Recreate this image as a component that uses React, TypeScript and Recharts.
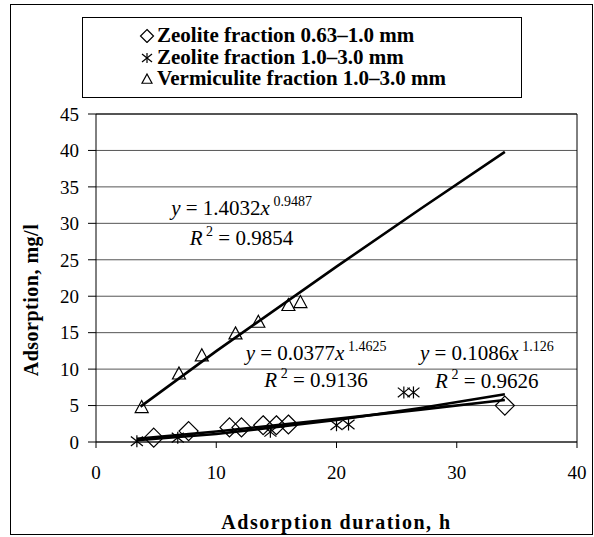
import React from 'react';
import { ScatterChart, Scatter, XAxis, YAxis, CartesianGrid, ReferenceLine, ReferenceDot } from 'recharts';

const FONT = '"Liberation Serif", "Times New Roman", serif';

const xTicks = [0, 10, 20, 30, 40];
const yTicks = [0, 5, 10, 15, 20, 25, 30, 35, 40, 45];

// measured points
const zeoliteFine = [
  { x: 4.8, y: 0.6 }, { x: 7.7, y: 1.5 }, { x: 11.1, y: 2.0 }, { x: 12.1, y: 2.0 },
  { x: 13.9, y: 2.3 }, { x: 15.0, y: 2.3 }, { x: 16.0, y: 2.4 }, { x: 34.0, y: 5.0 },
];
const zeoliteCoarse = [
  { x: 3.4, y: 0.1 }, { x: 6.8, y: 0.6 }, { x: 14.5, y: 1.4 }, { x: 20.0, y: 2.3 },
  { x: 21.0, y: 2.4 }, { x: 25.6, y: 6.8 }, { x: 26.4, y: 6.8 },
];
const vermiculite = [
  { x: 3.8, y: 4.8 }, { x: 6.9, y: 9.4 }, { x: 8.8, y: 11.9 }, { x: 11.6, y: 14.9 },
  { x: 13.5, y: 16.5 }, { x: 16.0, y: 18.8 }, { x: 17.0, y: 19.2 },
];

// trendlines
const zeoliteFineTrend = [
  { x: 3.4, y: 0.43 }, { x: 10, y: 1.45 }, { x: 20, y: 3.17 }, { x: 27, y: 4.44 }, { x: 34, y: 5.76 },
];
const zeoliteCoarseTrend = [
  { x: 3.4, y: 0.23 }, { x: 10, y: 1.09 }, { x: 20, y: 3.01 }, { x: 27, y: 4.67 }, { x: 34, y: 6.54 },
];
const vermiculiteTrend = [
  { x: 3.7, y: 4.85 }, { x: 10, y: 12.47 }, { x: 20, y: 24.06 }, { x: 27, y: 32.0 }, { x: 34, y: 39.8 },
];

const legendNames = [
  'Zeolite fraction 0.63\u20131.0 mm',
  'Zeolite fraction 1.0\u20133.0 mm',
  'Vermiculite fraction 1.0\u20133.0 mm',
];

const equations = [
  { coef: '1.4032', exp: '0.9487', r2: '0.9854', x: 12.1, y: 32.1, ry: 28.0 },
  { coef: '0.0377', exp: '1.4625', r2: '0.9136', x: 18.3, y: 12.2, ry: 8.5 },
  { coef: '0.1086', exp: '1.126', r2: '0.9626', x: 32.5, y: 12.2, ry: 8.4 },
];

const Diamond = ({ cx, cy, s = 9.5 }: any) => (
  <path d={`M${cx},${cy - s}L${cx + s},${cy}L${cx},${cy + s}L${cx - s},${cy}Z`} fill="none" stroke="#000" strokeWidth={1.2} />
);

const Star = ({ cx, cy, s = 6 }: any) => (
  <g stroke="#000" strokeWidth={1.2}>
    <line x1={cx} y1={cy - s} x2={cx} y2={cy + s} />
    <line x1={cx - s} y1={cy - s * 0.8} x2={cx + s} y2={cy + s * 0.8} />
    <line x1={cx - s} y1={cy + s * 0.8} x2={cx + s} y2={cy - s * 0.8} />
  </g>
);

const Triangle = ({ cx, cy, s = 6.5 }: any) => (
  <path d={`M${cx},${cy - s}L${cx + s},${cy + s * 0.85}L${cx - s},${cy + s * 0.85}Z`} fill="none" stroke="#000" strokeWidth={1.2} />
);

const noShape = () => <g />;

const eqLabel = (coef: string, exp: string) => (props: any) => {
  const { x, y } = props.viewBox;
  return (
    <text x={x} y={y + 7} textAnchor="middle" fontFamily={FONT} fontSize={21} fill="#000">
      <tspan fontStyle="italic">y</tspan>
      <tspan> = {coef}</tspan>
      <tspan fontStyle="italic">x</tspan>
      <tspan dy={-9} fontSize={14}> {exp}</tspan>
    </text>
  );
};

const r2Label = (r2: string) => (props: any) => {
  const { x, y } = props.viewBox;
  return (
    <text x={x} y={y + 7} textAnchor="middle" fontFamily={FONT} fontSize={21} fill="#000">
      <tspan fontStyle="italic">R</tspan>
      <tspan dy={-9} fontSize={14}> 2</tspan>
      <tspan dy={9}> = {r2}</tspan>
    </text>
  );
};

const tickStyle = { fontFamily: FONT, fontSize: 19, fill: '#000' };

export default function App() {
  const symbols = [Diamond, Star, Triangle];
  return (
    <div style={{ position: 'absolute', left: 0, top: 0, width: 594, height: 537, background: '#fff' }}>
      <ScatterChart width={594} height={537} margin={{ top: 114, right: 17, bottom: 65, left: 10 }}>
        <CartesianGrid vertical={false} stroke="#555" />
        <XAxis
          type="number"
          dataKey="x"
          domain={[0, 40]}
          ticks={xTicks}
          interval={0}
          height={30}
          tickSize={6}
          tickMargin={18}
          tick={tickStyle}
          stroke="#000"
          label={{
            content: (p: any) => (
              <text
                x={p.viewBox.x + p.viewBox.width / 2}
                y={529}
                textAnchor="middle"
                fontFamily={FONT}
                fontWeight="bold"
                fontSize={20}
                letterSpacing={1.5}
                fill="#000"
              >
                Adsorption duration, h
              </text>
            ),
          }}
        />
        <YAxis
          type="number"
          dataKey="y"
          domain={[0, 45]}
          ticks={yTicks}
          interval={0}
          width={86}
          tickSize={8}
          tickMargin={9}
          tick={tickStyle}
          stroke="#000"
          label={{
            content: () => (
              <text
                x={38}
                y={300}
                transform="rotate(-90, 38, 300)"
                textAnchor="middle"
                fontFamily={FONT}
                fontWeight="bold"
                fontSize={20}
                letterSpacing={0.5}
                fill="#000"
              >
                Adsorption, mg/l
              </text>
            ),
          }}
        />
        <ReferenceLine x={40} stroke="#000" />
        <ReferenceLine y={45} stroke="#000" />
        <Scatter data={zeoliteFine} shape={(p: any) => <Diamond cx={p.cx} cy={p.cy} />} isAnimationActive={false} />
        <Scatter data={zeoliteCoarse} shape={(p: any) => <Star cx={p.cx} cy={p.cy} />} isAnimationActive={false} />
        <Scatter data={vermiculite} shape={(p: any) => <Triangle cx={p.cx} cy={p.cy} />} isAnimationActive={false} />
        <Scatter data={zeoliteFineTrend} line={{ stroke: '#000', strokeWidth: 2.6 }} shape={noShape} isAnimationActive={false} />
        <Scatter data={zeoliteCoarseTrend} line={{ stroke: '#000', strokeWidth: 2.6 }} shape={noShape} isAnimationActive={false} />
        <Scatter data={vermiculiteTrend} line={{ stroke: '#000', strokeWidth: 2.6 }} shape={noShape} isAnimationActive={false} />
        {equations.map((e, i) => (
          <ReferenceDot key={'e' + i} x={e.x} y={e.y} r={0} fill="none" stroke="none" label={{ content: eqLabel(e.coef, e.exp) }} />
        ))}
        {equations.map((e, i) => (
          <ReferenceDot key={'r' + i} x={e.x} y={e.ry} r={0} fill="none" stroke="none" label={{ content: r2Label(e.r2) }} />
        ))}
      </ScatterChart>

      <div
        style={{
          position: 'absolute', left: 82, top: 17, width: 440, height: 81,
          border: '1px solid #000', boxSizing: 'border-box', background: '#fff',
        }}
      >
        {legendNames.map((name, i) => {
          const Sym = symbols[i];
          return (
            <div key={name} style={{ position: 'absolute', left: 56, top: 7 + i * 21.5, height: 20, display: 'flex', alignItems: 'center' }}>
              <svg width={16} height={16} style={{ marginRight: 2 }}>
                <Sym cx={8} cy={9} s={i === 0 ? 6.5 : 5} />
              </svg>
              <span style={{ fontFamily: FONT, fontWeight: 'bold', fontSize: 21, color: '#000', whiteSpace: 'nowrap', lineHeight: '20px' }}>
                {name}
              </span>
            </div>
          );
        })}
      </div>

      <div
        style={{
          position: 'absolute', left: 10, top: 4, width: 583, height: 531,
          border: '1px solid #000', boxSizing: 'border-box', pointerEvents: 'none',
        }}
      />
    </div>
  );
}
